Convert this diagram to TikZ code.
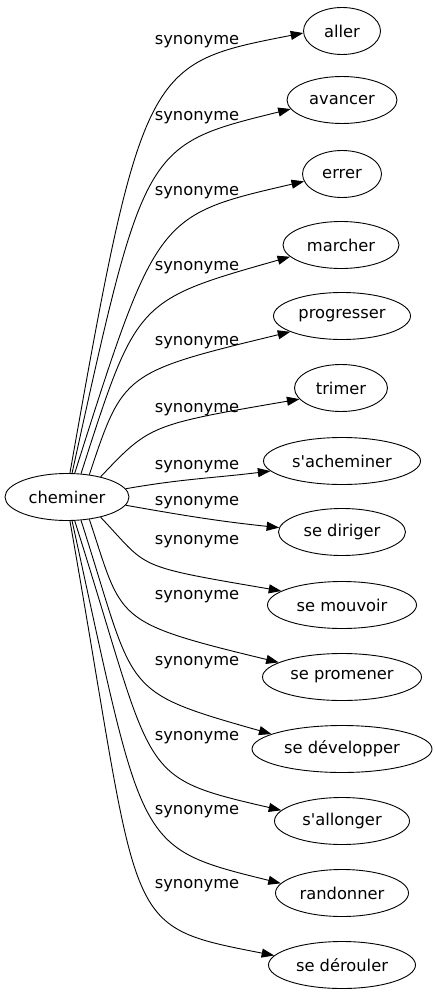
\documentclass[tikz,border=0pt]{standalone}
\usepackage{fontspec}
\newfontfamily\dvfont{DejaVu Sans}
\usetikzlibrary{arrows.meta,shapes.geometric}
\begin{document}
\begin{tikzpicture}[x=1pt,y=1pt,
  word/.style={draw, ellipse, line width=0.9pt, minimum height=47pt, inner sep=0pt,
    font=\dvfont\fontsize{16.3}{18}\selectfont},
  rel/.style={inner sep=0pt, font=\dvfont\fontsize{16.3}{18}\selectfont},
  edge/.style={line width=0.9pt, -{Triangle[length=12.5pt,width=9pt]}}]
\useasboundingbox (0,0) rectangle (434,-995);
\node[word, minimum width=124pt] (c) at (67,-497) {cheminer};
\node[word, minimum width=77pt]  (n1)  at (342,-31)  {aller};
\node[word, minimum width=110pt] (n2)  at (342,-100) {avancer};
\node[word, minimum width=79pt]  (n3)  at (342,-174) {errer};
\node[word, minimum width=116pt] (n4)  at (341,-245) {marcher};
\node[word, minimum width=137pt] (n5)  at (342,-316) {progresser};
\node[word, minimum width=93pt]  (n6)  at (341,-388) {trimer};
\node[word, minimum width=157pt] (n7)  at (342,-461) {s'acheminer};
\node[word, minimum width=127pt] (n8)  at (342,-532) {se diriger};
\node[word, minimum width=149pt] (n9)  at (342,-605) {se mouvoir};
\node[word, minimum width=159pt] (n10) at (342,-677) {se promener};
\node[word, minimum width=180pt] (n11) at (342,-749) {se développer};
\node[word, minimum width=135pt] (n12) at (342,-821) {s'allonger};
\node[word, minimum width=133pt] (n13) at (342,-893) {randonner};
\node[word, minimum width=147pt] (n14) at (342,-965) {se dérouler};
% labels
\node[rel] (l1)  at (197,-42)  {synonyme};
\node[rel] (l2)  at (197,-118) {synonyme};
\node[rel] (l3)  at (197,-193) {synonyme};
\node[rel] (l4)  at (197,-268) {synonyme};
\node[rel] (l5)  at (197,-343) {synonyme};
\node[rel] (l6)  at (197,-410) {synonyme};
\node[rel] (l7)  at (197,-467) {synonyme};
\node[rel] (l8)  at (197,-503) {synonyme};
\node[rel] (l9)  at (197,-542) {synonyme};
\node[rel] (l10) at (197,-597) {synonyme};
\node[rel] (l11) at (197,-663) {synonyme};
\node[rel] (l12) at (197,-738) {synonyme};
\node[rel] (l13) at (197,-812) {synonyme};
\node[rel] (l14) at (197,-886) {synonyme};
% upper edges
\draw[edge] (c.83) to[out=80, in=191, out distance=416pt, in distance=159pt] (n1.183);
\draw[edge] (c.78) to[out=77.6, in=193.8, out distance=336pt, in distance=151pt] (n2.190.5);
\draw[edge] (c.72) to[out=72.4, in=193, out distance=271pt, in distance=151pt] (n3.191);
\draw[edge] (c.59) to[out=72.2, in=195.8, out distance=182pt, in distance=160pt] (n4.193);
\draw[edge] (c.45) to[out=71.6, in=193.6, out distance=107pt, in distance=172pt] (n5.197);
\draw[edge] (c.31) to[out=46.5, in=189.7, out distance=71pt, in distance=152pt] (n6.195.6);
\draw[edge] (c.8) to[out=10, in=187] (n7.188);
% lower edges
\draw[edge] (c.352) to[out=-10, in=174] (n8.176);
\draw[edge] (c.329) to[out=-46.5, in=170.3, out distance=71pt, in distance=152pt] (n9.167.6);
\draw[edge] (c.315) to[out=-71.6, in=166.4, out distance=107pt, in distance=172pt] (n10.167);
\draw[edge] (c.301) to[out=-72.2, in=164.2, out distance=182pt, in distance=160pt] (n11.168);
\draw[edge] (c.288) to[out=-72.4, in=167, out distance=271pt, in distance=151pt] (n12.170);
\draw[edge] (c.282) to[out=-77.6, in=166.2, out distance=336pt, in distance=151pt] (n13.171);
\draw[edge] (c.277) to[out=-80, in=169, out distance=416pt, in distance=159pt] (n14.172);
\end{tikzpicture}
\end{document}
